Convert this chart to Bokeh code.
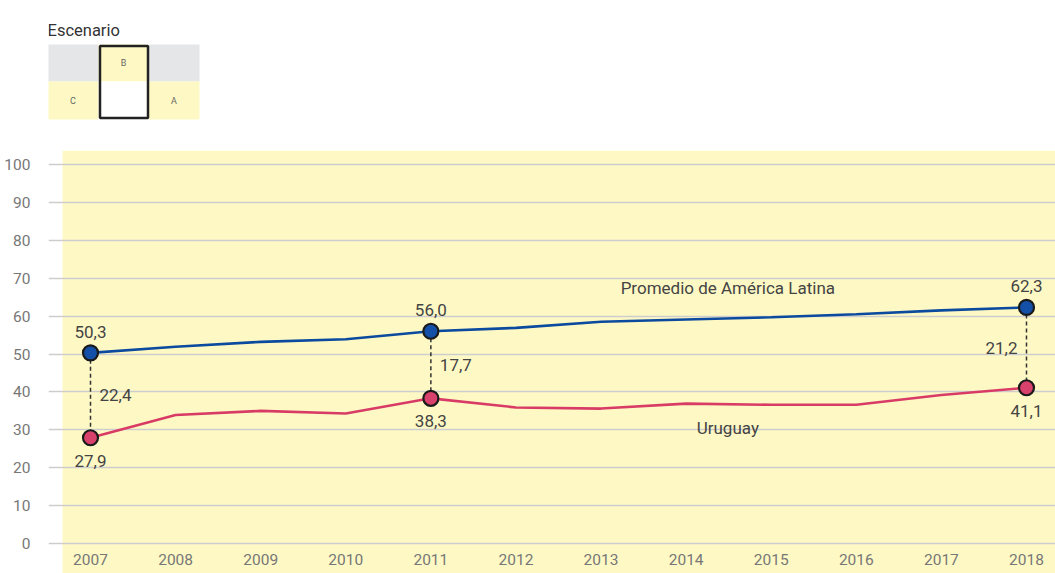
from bokeh.plotting import figure
from bokeh.models import Range1d, FixedTicker
from bokeh.layouts import column
from bokeh.core.properties import value
from bokeh.embed import file_html
from bokeh.resources import INLINE

# ---------------- data ----------------
years = [2007, 2008, 2009, 2010, 2011, 2012, 2013, 2014, 2015, 2016, 2017, 2018]
promedio = [50.3, 51.9, 53.2, 53.9, 56.0, 56.9, 58.5, 59.1, 59.7, 60.5, 61.5, 62.3]
uruguay = [27.9, 33.9, 35.0, 34.3, 38.3, 35.9, 35.6, 36.9, 36.6, 36.6, 39.2, 41.1]
y_ticks = [0, 10, 20, 30, 40, 50, 60, 70, 80, 90, 100]
highlight_years = [2007, 2011, 2018]
series_names = ["Promedio de América Latina", "Uruguay"]
scenario_title = "Escenario"
scenario_top = ["", "B", ""]
scenario_bottom = ["C", "", "A"]

FONT = "Roboto"
BLUE_LINE = "#0b4a9e"
BLUE_FILL = "#1550a8"
RED_LINE = "#d83c66"
RED_FILL = "#d8416b"
YELLOW = "#fef9c4"
GRAY_CELL = "#e5e6e8"
TEXT = "#444444"
TICK = "#777777"

W = 1055
LEFT = 48
TOP_H = 150
MAIN_H = 423

def fmt(v):
    return f"{v:.1f}".replace(".", ",")

# ---------------- scenario header (pixel-like coordinates) ----------------
top = figure(width=W, height=TOP_H, x_range=Range1d(LEFT, W), y_range=Range1d(TOP_H, 0),
             output_backend="svg", toolbar_location=None,
             x_axis_location=None, y_axis_location=None,
             min_border_left=LEFT, min_border_right=0, min_border_top=0, min_border_bottom=0)
top.outline_line_color = None
top.grid.grid_line_color = None
top.background_fill_color = "white"
top.border_fill_color = "white"

col_l = [47, 98, 148]
col_r = [98, 148, 199]
row_t = [44, 81]
row_b = [81, 119]

top.text(x=[col_l[0]], y=[30], text=[scenario_title], text_font=value(FONT),
         text_font_size="16.5px", text_color="#333333", text_baseline="alphabetic")

top_colors = [GRAY_CELL if s == "" else YELLOW for s in scenario_top]
bot_colors = ["white" if s == "" else YELLOW for s in scenario_bottom]
top.quad(left=col_l, right=col_r, top=[row_t[0]] * 3, bottom=[row_b[0]] * 3,
         fill_color=top_colors, line_color=None)
top.quad(left=col_l, right=col_r, top=[row_t[1]] * 3, bottom=[row_b[1]] * 3,
         fill_color=bot_colors, line_color=None)
centers = [(a + b) / 2 for a, b in zip(col_l, col_r)]
top.text(x=centers, y=[(row_t[0] + row_b[0]) / 2] * 3, text=scenario_top,
         text_font=value(FONT), text_font_size="9px", text_color="#666666",
         text_align="center", text_baseline="middle")
top.text(x=centers, y=[(row_t[1] + row_b[1]) / 2] * 3, text=scenario_bottom,
         text_font=value(FONT), text_font_size="9px", text_color="#666666",
         text_align="center", text_baseline="middle")
sel = scenario_top.index("B")
top.quad(left=[col_l[sel] + 1.5], right=[col_r[sel] - 0.5], top=[row_t[0] + 1.5], bottom=[row_b[1] - 1.5],
         fill_color=None, line_color="#222222", line_width=2.5)

# ---------------- main chart ----------------
px_per_year = 85.09
px_per_unit = 3.79
x0 = 2007 - 42 / px_per_year
x1 = x0 + (W - LEFT) / px_per_year
y1 = 100 + 14 / px_per_unit
y0 = y1 - MAIN_H / px_per_unit

p = figure(width=W, height=MAIN_H, x_range=Range1d(x0, x1), y_range=Range1d(y0, y1),
           output_backend="svg", toolbar_location=None, x_axis_location=None,
           min_border_left=LEFT, min_border_right=0, min_border_top=0, min_border_bottom=0)
p.outline_line_color = None
p.background_fill_color = "white"
p.border_fill_color = "white"

# yellow panel
band_left = 2007 - 28 / px_per_year
p.quad(left=[band_left], right=[x1], bottom=[y0], top=[y1], fill_color=YELLOW,
       line_color=None, level="image")

p.xgrid.grid_line_color = None
p.ygrid.grid_line_color = "#cdcdcd"
p.ygrid.grid_line_width = 1.3

ax = p.yaxis[0]
ax.ticker = FixedTicker(ticks=y_ticks)
ax.axis_line_color = None
ax.major_tick_line_color = None
ax.minor_tick_line_color = None
ax.major_label_standoff = 12
ax.major_label_text_font = FONT
ax.major_label_text_font_size = "15.5px"
ax.major_label_text_color = TICK

# x tick labels inside the yellow panel (kept fully inside the page)
p.text(x=years, y=[-(559 - 543) / px_per_unit] * len(years), text=[str(y) for y in years],
       text_font=value(FONT), text_font_size="15.5px", text_color=TICK,
       text_align="center", text_baseline="middle")

# dashed connectors
idx = [years.index(y) for y in highlight_years]
hb = [promedio[i] for i in idx]
hr = [uruguay[i] for i in idx]
p.segment(x0=highlight_years, y0=hb, x1=highlight_years, y1=hr,
          line_color="#333333", line_width=1.5, line_dash="4 3")

# lines
p.line(years, promedio, line_color=BLUE_LINE, line_width=2.6)
p.line(years, uruguay, line_color=RED_LINE, line_width=2.6)

# markers
p.scatter(highlight_years, hb, size=15, fill_color=BLUE_FILL, line_color="#1a1a1a", line_width=2.2)
p.scatter(highlight_years, hr, size=15, fill_color=RED_FILL, line_color="#1a1a1a", line_width=2.2)

lab = dict(text_font=value(FONT), text_font_size="17px", text_color=TEXT, text_baseline="middle")
p.text(x=highlight_years, y=hb, text=[fmt(v) for v in hb], text_align="center", y_offset=-21, **lab)
p.text(x=highlight_years, y=hr, text=[fmt(v) for v in hr], text_align="center", y_offset=23, **lab)

diffs = [b - r for b, r in zip(hb, hr)]
mids = [(b + r) / 2 for b, r in zip(hb, hr)]
p.text(x=highlight_years[:2], y=mids[:2], text=[fmt(d) for d in diffs[:2]],
       text_align="left", x_offset=9, **lab)
p.text(x=highlight_years[2:], y=mids[2:], text=[fmt(d) for d in diffs[2:]],
       text_align="right", x_offset=-9, **lab)

# series labels
p.text(x=[2014.49], y=[67.5], text=[series_names[0]], text_align="center", **lab)
p.text(x=[2014.49], y=[30.6], text=[series_names[1]], text_align="center", **lab)

layout = column(top, p, spacing=0)
open("out.html", "w").write(file_html(layout, INLINE))
